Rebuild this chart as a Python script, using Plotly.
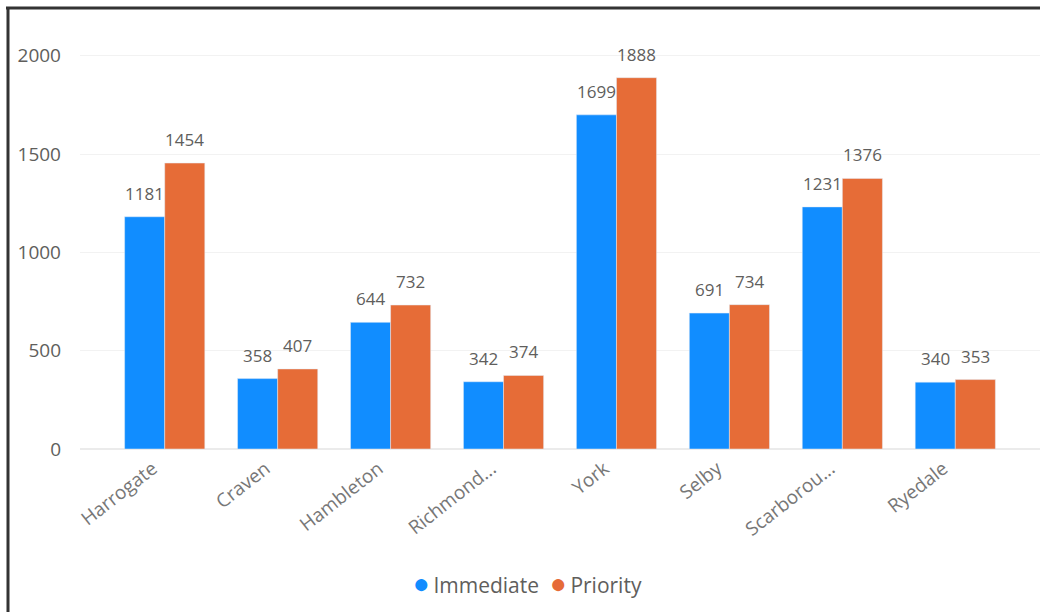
import plotly.graph_objects as go

# --- DADOS ---
districts = ['Harrogate', 'Craven', 'Hambleton', 'Richmond...', 'York', 'Selby', 'Scarborou...', 'Ryedale']
immediate = [1181, 358, 644, 342, 1699, 691, 1231, 340]
priority = [1454, 407, 732, 374, 1888, 734, 1376, 353]
y_ticks = [0, 500, 1000, 1500, 2000]

BLUE = '#118DFF'
ORANGE = '#E66C37'
FONT = 'Open Sans'
GREY = '#605E5C'

fig = go.Figure()
series = [('Immediate', immediate, BLUE, -20), ('Priority', priority, ORANGE, 20)]
for name, vals, color, shift in series:
    fig.add_trace(go.Bar(x=districts, y=vals, name=name, marker_color=color, showlegend=False))
    # rótulos de dados acima de cada barra
    for d, v in zip(districts, vals):
        fig.add_annotation(x=d, y=v, text=str(v), showarrow=False, xshift=shift, yshift=10,
                           yanchor='bottom', font=dict(family=FONT, size=17, color=GREY))

# borda da imagem original (esquerda e topo)
W, H = 1040, 612
L, R, T, B = 80, 0, 36, 163
pw, ph = W - L - R, H - T - B
px = lambda v: (v - L) / pw
py = lambda v: (H - B - v) / ph
fig.add_shape(type='line', xref='paper', yref='paper',
              x0=px(8), x1=px(8), y0=py(620), y1=py(8), line=dict(color='#333333', width=3))
fig.add_shape(type='line', xref='paper', yref='paper',
              x0=px(6), x1=px(1045), y0=py(8), y1=py(8), line=dict(color='#333333', width=3))

# legenda compacta com marcadores circulares
fig.add_annotation(
    xref='paper', yref='paper', x=px(527), y=py(582), showarrow=False,
    xanchor='center', yanchor='middle',
    text=(f"<span style='color:{BLUE};font-size:28px'>●</span>&#8201;Immediate&nbsp;&nbsp;"
          f"<span style='color:{ORANGE};font-size:28px'>●</span>&#8201;Priority"),
    font=dict(family=FONT, size=21, color=GREY),
)

fig.update_layout(
    width=W, height=H,
    margin=dict(l=L, r=R, t=T, b=B),
    paper_bgcolor='white', plot_bgcolor='white',
    barmode='group', bargap=0.29, bargroupgap=0,
    font=dict(family=FONT, color=GREY),
    showlegend=False,
    xaxis=dict(range=[-0.75, 7.75], tickangle=-38, showgrid=False, showline=False,
               tickfont=dict(family=FONT, size=19, color='#777777'), ticks='',
               ticklabelstandoff=4, ticklabelshift=-12, automargin=False),
    yaxis=dict(range=[0, 2100], tickvals=y_ticks, showgrid=True, gridcolor='#F2F2F2',
               gridwidth=1, zeroline=True, zerolinecolor='#EBEBEB', showline=False,
               tickfont=dict(family=FONT, size=19, color=GREY), ticks='',
               ticklabelstandoff=18, automargin=False),
)

fig.write_html('out.html', config={'displayModeBar': False},
               post_script="document.body.style.margin='0';")
